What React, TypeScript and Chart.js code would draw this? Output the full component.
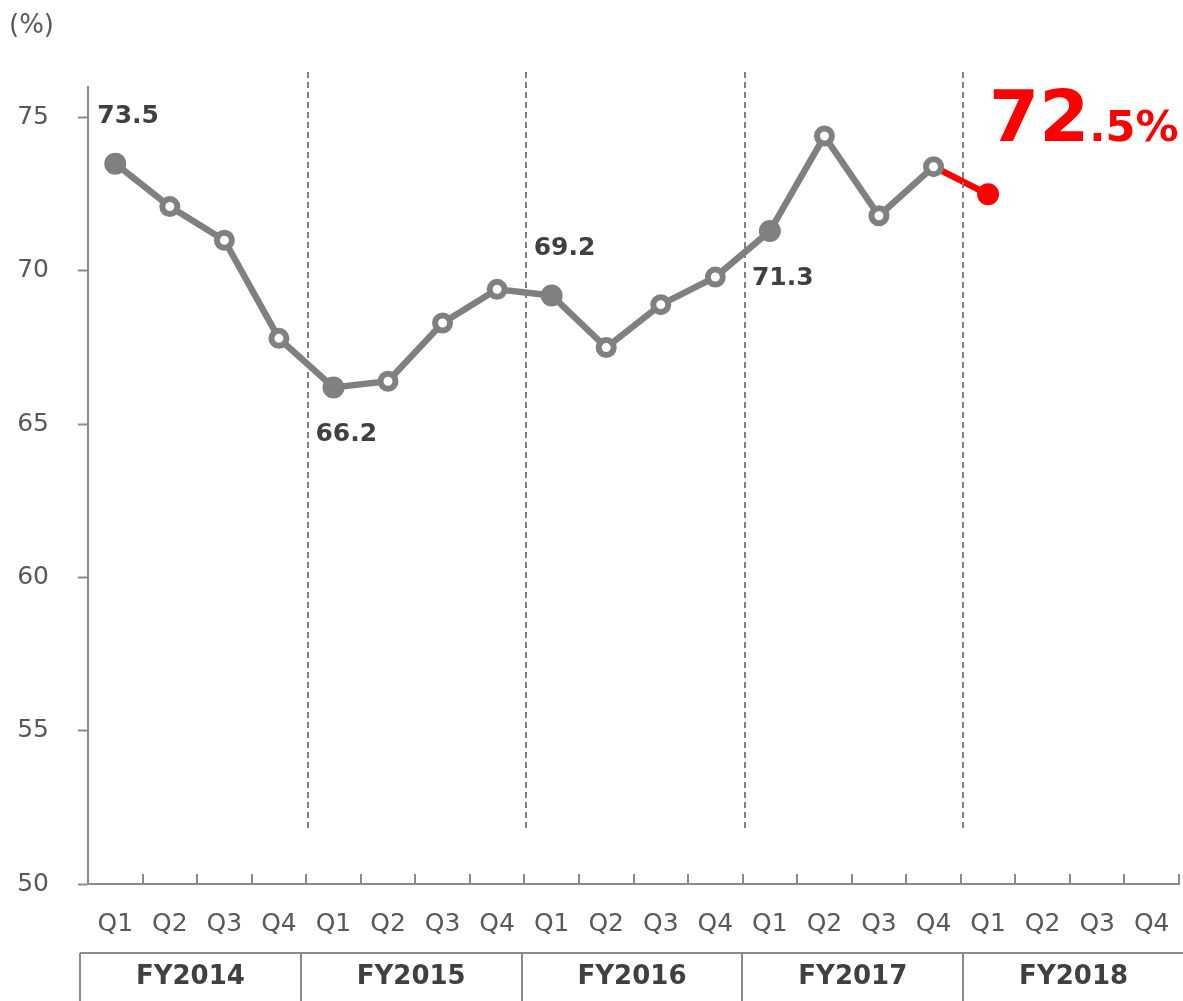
import React, { useEffect, useRef } from "react";
import { Chart, registerables } from "chart.js";

Chart.register(...registerables);

const quarterLabels = [
  "Q1", "Q2", "Q3", "Q4",
  "Q1", "Q2", "Q3", "Q4",
  "Q1", "Q2", "Q3", "Q4",
  "Q1", "Q2", "Q3", "Q4",
  "Q1", "Q2", "Q3", "Q4",
];
const fiscalYears = ["FY2014", "FY2015", "FY2016", "FY2017", "FY2018"];
const ratioValues: (number | null)[] = [
  73.5, 72.1, 71.0, 67.8,
  66.2, 66.4, 68.3, 69.4,
  69.2, 67.5, 68.9, 69.8,
  71.3, 74.4, 71.8, 73.4,
  72.5, null, null, null,
];
const labeledPoints = [0, 4, 8, 12];
const labelPlacement = ["above", "below", "above", "below"];
const latestIndex = 16;
const yTickValues = [50, 55, 60, 65, 70, 75];
const unitLabel = "(%)";

const GRAY = "#808080";
const AXIS = "#8a8a8a";
const RED = "#FF0000";
const TEXT_DARK = "#404040";
const TEXT_MID = "#595959";
const FONT = "'DejaVu Sans', Verdana, sans-serif";

const decorPlugin = {
  id: "decor",
  afterDatasetsDraw(chart: any) {
    const { ctx, chartArea, scales } = chart;
    const y = scales.y;
    const n = quarterLabels.length;
    const step = (chartArea.right - chartArea.left) / n;
    ctx.save();

    // inner tick marks on x-axis
    ctx.strokeStyle = AXIS;
    ctx.lineWidth = 2;
    ctx.setLineDash([]);
    for (let k = 1; k <= n; k++) {
      const px = Math.round(chartArea.left + k * step);
      ctx.beginPath();
      ctx.moveTo(px, chartArea.bottom);
      ctx.lineTo(px, chartArea.bottom - 10);
      ctx.stroke();
    }

    // dashed fiscal-year separators
    ctx.strokeStyle = GRAY;
    ctx.lineWidth = 2;
    ctx.setLineDash([6, 4]);
    for (let f = 1; f < fiscalYears.length; f++) {
      const px = Math.round(chartArea.left + f * 4 * step) + 2;
      ctx.beginPath();
      ctx.moveTo(px, chartArea.top - 15);
      ctx.lineTo(px, y.getPixelForValue(51.8));
      ctx.stroke();
    }
    ctx.setLineDash([]);

    // data labels
    const meta = chart.getDatasetMeta(0);
    ctx.fillStyle = TEXT_DARK;
    ctx.font = `bold 25px ${FONT}`;
    ctx.textAlign = "left";
    ctx.textBaseline = "middle";
    labeledPoints.forEach((idx, i) => {
      const pt = meta.data[idx];
      const v = ratioValues[idx] as number;
      const dy = labelPlacement[i] === "above" ? -47 : 47;
      ctx.fillText(v.toFixed(1), pt.x - 18, pt.y + dy);
    });

    // latest value label
    const lp = meta.data[latestIndex];
    const lv = ratioValues[latestIndex] as number;
    const intPart = Math.floor(lv).toString();
    const rest = (lv - Math.floor(lv)).toFixed(1).slice(1) + "%";
    ctx.fillStyle = RED;
    ctx.textBaseline = "alphabetic";
    ctx.font = `bold 72px ${FONT}`;
    const bx = lp.x + 1;
    const by = lp.y - 53;
    ctx.fillText(intPart, bx, by);
    const w = ctx.measureText(intPart).width;
    ctx.font = `bold 43px ${FONT}`;
    ctx.fillText(rest, bx + w, by);

    // unit label
    ctx.fillStyle = TEXT_MID;
    ctx.font = `26px ${FONT}`;
    ctx.textBaseline = "middle";
    ctx.fillText(unitLabel, 9, 26);

    // fiscal year table
    const tLeft = chartArea.left - 8;
    const tRight = chart.width + 1;
    const cellW = (tRight - tLeft) / fiscalYears.length;
    const tTop = 953;
    ctx.strokeStyle = AXIS;
    ctx.lineWidth = 2;
    ctx.beginPath();
    ctx.moveTo(tLeft, tTop);
    ctx.lineTo(tRight, tTop);
    ctx.stroke();
    ctx.fillStyle = TEXT_DARK;
    ctx.font = `bold 26px ${FONT}`;
    ctx.textAlign = "center";
    fiscalYears.forEach((fy, i) => {
      const cx = Math.round(tLeft + i * cellW);
      ctx.beginPath();
      ctx.moveTo(cx, tTop);
      ctx.lineTo(cx, chart.height);
      ctx.stroke();
      ctx.fillText(fy, tLeft + (i + 0.5) * cellW, tTop + 24);
    });

    ctx.restore();
  },
};

export default function App() {
  const canvasRef = useRef<HTMLCanvasElement | null>(null);

  useEffect(() => {
    const canvas = canvasRef.current;
    if (!canvas) return;
    const pointRadius = ratioValues.map((_, i) =>
      i === latestIndex ? 10 : labeledPoints.includes(i) ? 10 : 7.5
    );
    const pointBg = ratioValues.map((_, i) =>
      i === latestIndex ? RED : labeledPoints.includes(i) ? GRAY : "#FFFFFF"
    );
    const pointBorder = ratioValues.map((_, i) => (i === latestIndex ? RED : GRAY));
    const pointBorderWidth = ratioValues.map((_, i) =>
      i === latestIndex || labeledPoints.includes(i) ? 2 : 6
    );

    const chart = new Chart(canvas, {
      type: "line",
      data: {
        labels: quarterLabels,
        datasets: [
          {
            data: ratioValues,
            borderColor: GRAY,
            borderWidth: 6.5,
            tension: 0,
            spanGaps: false,
            clip: false,
            pointRadius,
            pointBackgroundColor: pointBg,
            pointBorderColor: pointBorder,
            pointBorderWidth,
            segment: {
              borderColor: (c: any) => (c.p1DataIndex === latestIndex ? RED : undefined),
            },
          },
        ],
      },
      options: {
        responsive: false,
        animation: false,
        events: [],
        layout: { autoPadding: false, padding: { top: 87, right: 4, left: 0, bottom: 0 } },
        plugins: { legend: { display: false }, tooltip: { enabled: false } },
        scales: {
          x: {
            type: "category",
            offset: true,
            grid: { display: true, drawOnChartArea: false, drawTicks: false, color: AXIS },
            border: { display: true, color: AXIS, width: 2 },
            ticks: {
              color: TEXT_MID,
              font: { family: FONT, size: 25 },
              padding: 25,
              maxRotation: 0,
              autoSkip: false,
            },
            afterFit: (s: any) => {
              s.height = 117;
              s.paddingLeft = 0;
              s.paddingRight = 0;
            },
          },
          y: {
            type: "linear",
            min: 50,
            max: 76,
            grid: {
              display: true,
              drawOnChartArea: false,
              drawTicks: true,
              tickLength: 10,
              tickWidth: 2,
              tickColor: AXIS,
            },
            border: { display: true, color: AXIS, width: 2 },
            afterBuildTicks: (s: any) => {
              s.ticks = yTickValues.map((v) => ({ value: v }));
            },
            ticks: {
              color: TEXT_MID,
              font: { family: FONT, size: 25 },
              padding: 29,
              includeBounds: false,
            },
            afterFit: (s: any) => {
              s.width = 88;
              s.paddingTop = 0;
              s.paddingBottom = 0;
            },
          },
        },
      },
      plugins: [decorPlugin],
    });
    return () => chart.destroy();
  }, []);

  return (
    <div style={{ position: "fixed", left: 0, top: 0, width: 1183, height: 1001, background: "#fff" }}>
      <canvas ref={canvasRef} width={1183} height={1001} style={{ display: "block" }} />
    </div>
  );
}
